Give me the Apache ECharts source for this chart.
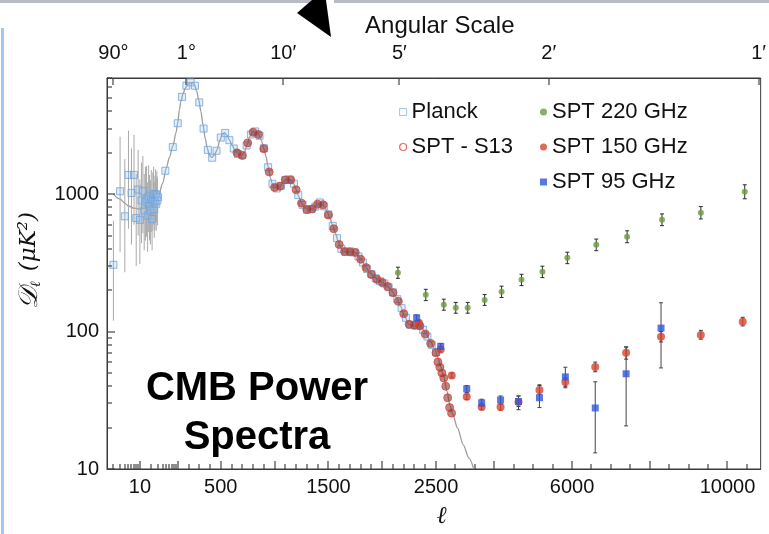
<!DOCTYPE html>
<html><head><meta charset="utf-8">
<script src="https://cdn.jsdelivr.net/npm/echarts@6/dist/echarts.min.js"></script>
<style>html,body{margin:0;padding:0;background:#fff}#c{width:769px;height:534px}</style>
</head><body><div id="c"></div>
<script>
// ---------- tick labels ----------
const xLabelVals = [10, 500, 1500, 2500, 6000, 10000];
const xMajorTicks = [10, 100, 500, 1000, 1500, 2000, 2500, 4000, 6000, 8000, 10000];
const xMinorTicks = [2,3,4,5,6,7,8,9,20,30,40,50,60,70,80,90,200,300,400,600,700,800,900,1100,1200,1300,1400,1600,1700,1800,1900,2100,2200,2300,2400,3000,3500,4500,5000,5500,6500,7000,7500,8500,9000,9500,10500];
const angL = [2, 180, 1080, 2160, 5400, 10800];
const angLabels = ['90°', '1°', '10′', '5′', '2′', '1′'];
const yLabelVals = [10, 100, 1000];
const yMinorTicks = [20,30,40,50,60,70,80,90,200,300,400,500,600,700,800,900,2000,3000,4000,5000,6000,7000];

// ---------- theory curve ----------
const theoryL = [2,3,4,5,7,10,15,20,25,30,40,50,60,75,90,100,115,130,150,170,190,215,235,255,275,295,315,335,355,375,395,415,440,465,490,515,535,555,580,605,630,655,678,700,720,745,770,792,812,835,858,880,900,920,940,960,980,1000,1025,1050,1075,1100,1125,1150,1175,1200,1225,1250,1275,1300,1325,1350,1375,1400,1420,1440,1465,1490,1515,1540,1565,1590,1615,1640,1665,1690,1715,1740,1765,1790,1815,1850,1890,1930,1970,2010,2050,2090,2130,2170,2210,2250,2290,2330,2370,2410,2450,2490,2550,2620,2700,2780,2860,2930,3050,3200,3350,3470];
const theoryD = [1000,920,860,820,790,780,790,820,870,930,1200,1550,1850,2250,2800,3300,4100,4750,5400,5900,6250,6450,6470,6250,5650,4850,4000,3200,2550,2150,1920,1850,1920,2100,2450,2750,2800,2700,2480,2270,2100,1980,1890,1920,2030,2300,2620,2800,2850,2800,2680,2420,2150,1880,1580,1320,1180,1120,1100,1130,1210,1275,1290,1265,1200,1080,960,860,800,775,770,780,805,845,865,855,810,740,665,590,520,455,405,385,378,380,382,380,368,345,322,292,265,248,235,225,213,198,178,153,128,112,110,112,106,96,84,74,64,56,47,37,29,25,20,15,12,10];

// ---------- Planck ----------
const planckLowL = [2,3,4,5,6,7,8,9,10,11,12,13,14,15,16,17,18,19,20,21,22,23,24,25,26,27,28,29];
const planckLowD = [306,1050,690,1380,1020,1380,670,1080,650,900,1050,760,880,920,700,960,820,760,920,660,900,1000,780,880,1000,850,980,900];
const planckLowLo = [120,380,270,560,430,600,300,500,310,440,520,390,460,490,380,530,460,430,530,390,540,600,480,550,630,540,630,590];
const planckLowHi = [640,2620,1800,2900,2150,2700,1400,2100,1280,1700,1900,1400,1580,1600,1220,1620,1380,1260,1500,1080,1440,1580,1220,1360,1520,1290,1470,1340];
const planckL = [30,47,74,100,140,180,220,260,300,340,380,420,460,500,540,580,620,660,700,740,780,820,860,900,940,980,1020,1060,1100,1140,1180,1220,1260,1300,1340,1380,1420,1460,1500,1540,1580,1620,1660,1700,1740,1780,1820,1860,1900,1940,1980,2020,2060,2100,2140,2180,2220,2260,2300,2340,2380,2420,2460,2500];
const planckD = [950,1480,2200,3280,5100,6150,6500,6150,4650,3000,2100,1840,2070,2580,2790,2470,2150,1960,1930,2260,2720,2860,2660,2160,1570,1190,1100,1150,1270,1280,1190,985,835,770,778,812,870,815,712,588,478,400,380,384,377,352,318,285,262,244,232,224,210,193,172,148,126,112,111,111,103,92,80,71];

// ---------- SPT - S13 ----------
const s13L = [650,700,750,800,850,900,950,1000,1050,1100,1150,1200,1250,1300,1350,1400,1450,1500,1550,1600,1650,1700,1750,1800,1850,1900,1950,2000,2050,2100,2150,2200,2250,2300,2350,2400,2450,2500,2550,2600,2650,2700,2750,2800,2850,2900];
const s13D = [2000,1910,2360,2820,2720,2140,1450,1120,1140,1270,1270,1075,860,772,782,845,838,705,560,430,382,380,376,336,292,260,240,228,213,192,166,135,113,111,110,96,82,70,60,55,50,46,40,33,28,25.5];

// ---------- SPT 220 GHz ----------
const s220L = [2146,2405,2700,3008,3315,3751,4187,4700,5238,5879,6623,7418,8315,9315,10444];
const s220D = [268,185,157,149,149,170,195,238,272,344,428,490,652,733,1042];
const s220Lo = [244,168,143,136,136,155,177,216,247,312,388,443,590,660,925];
const s220Hi = [294,203,172,163,163,186,214,261,299,378,471,541,718,812,1170];

// ---------- SPT 150 GHz ----------
const s150L = [2340,2620,2905,3290,3674,4161,4623,5162,5828,6597,7392,8290,9315,10392];
const s150D = [116,74,48,33.5,28.3,28.3,30.7,37.6,43,55.3,70,91.6,94.6,118];
const s150Lo = [112,71,46,32,27,26.8,27,35,40,51,63,84,88,110];
const s150Hi = [120,77,50,35,29.6,29.8,34,40.5,46,60,77,100,102,127];

// ---------- SPT 95 GHz ----------
const s95L = [2320,2620,3290,3674,4161,4623,5162,5828,6597,7392,8290];
const s95D = [126,78,38.3,30.3,31.8,31,33,46.8,27.8,49.3,106];
const s95Lo = [120,74,36,28.5,29.5,28.5,28,39,13.1,20.6,54.4];
const s95Hi = [132,82,40.5,32.2,34,34,41,55,43.1,77.5,162];

// ---------- piecewise multipole scale (log to 100, linear to 2500, compressed linear beyond) ----------
function lx(l) {
  if (l <= 100) return 71 + 38 * Math.log10(l / 100);
  if (l <= 2500) return 71 + (l - 100) * 0.108;
  return 330.2 + (l - 2500) * 0.039;
}
const X_MAX = 656, Y_MIN = 10, Y_MAX = 7000;

const P = (L, D) => L.map((l, i) => [lx(l), D[i]]);
const E = (L, lo, hi) => L.map((l, i) => [lx(l), lo[i], hi[i]]);

function errSeries(data, color, cap, z, w) {
  return {
    type: 'custom', data, z, silent: true, clip: true,
    encode: { x: 0, y: [1, 2] },
    renderItem(params, api) {
      const x = api.value(0);
      const a = api.coord([x, api.value(1)]);
      const b = api.coord([x, api.value(2)]);
      const st = { stroke: color, lineWidth: w || 1 };
      const ch = [{ type: 'line', shape: { x1: a[0], y1: a[1], x2: b[0], y2: b[1] }, style: st }];
      if (cap) {
        ch.push({ type: 'line', shape: { x1: a[0] - cap, y1: a[1], x2: a[0] + cap, y2: a[1] }, style: st });
        ch.push({ type: 'line', shape: { x1: b[0] - cap, y1: b[1], x2: b[0] + cap, y2: b[1] }, style: st });
      }
      return { type: 'group', children: ch };
    }
  };
}

const AX = '#3a3a3a';
const FONT = "'Liberation Sans', Arial, sans-serif";
const baseGraphic = [
  { type: 'text', x: 257, y: 364, z: 20, silent: true,
    style: { text: 'CMB Power\nSpectra', font: "bold 40px 'Liberation Sans', Arial, sans-serif", fill: '#000', align: 'center', lineHeight: 49 } },
  { type: 'rect', shape: { x: 0, y: 0, width: 326, height: 3 }, style: { fill: '#b9bcc4' }, silent: true },
  { type: 'rect', shape: { x: 334, y: 0, width: 435, height: 3 }, style: { fill: '#b9bcc4' }, silent: true },
  { type: 'rect', shape: { x: 1, y: 28, width: 3, height: 506 }, style: { fill: '#a9c3f3' }, silent: true },
  { type: 'polygon', shape: { points: [[297, 13], [312, 0], [326, 0], [331, 37]] }, style: { fill: '#000' }, silent: true }
];

const chart = echarts.init(document.getElementById('c'), null, { renderer: 'canvas' });
chart.setOption({
  animation: false,
  backgroundColor: '#fff',
  grid: { show: true, borderColor: AX, borderWidth: 1, left: 107, right: 6, top: 78, bottom: 64 },
  xAxis: [
    { type: 'value', position: 'bottom', min: 0, max: X_MAX,
      axisLine: { show: true, lineStyle: { color: AX } },
      axisTick: { show: false },
      axisLabel: { show: true, customValues: xLabelVals.map(lx), margin: 8, color: '#111', fontSize: 20, fontFamily: FONT,
        formatter: v => { const i = xLabelVals.findIndex(l => Math.abs(lx(l) - v) < 0.5); return i >= 0 ? String(xLabelVals[i]) : ''; } },
      splitLine: { show: false },
      name: 'ℓ', nameLocation: 'middle', nameGap: 36,
      nameTextStyle: { fontFamily: "'DejaVu Serif', serif", fontStyle: 'italic', fontSize: 24, color: '#111', padding: [0, 0, 0, 16] }
    },
    { type: 'value', position: 'top', min: 0, max: X_MAX,
      axisLine: { show: true, lineStyle: { color: AX } },
      axisTick: { show: false },
      axisLabel: { show: true, customValues: angL.map(lx), margin: 15, color: '#111', fontSize: 20, fontFamily: FONT,
        formatter: v => { const i = angL.findIndex(l => Math.abs(lx(l) - v) < 0.5); return i >= 0 ? angLabels[i] : ''; } },
      splitLine: { show: false },
      name: 'Angular Scale', nameLocation: 'middle', nameGap: 39,
      nameTextStyle: { fontFamily: FONT, fontSize: 24, color: '#111', padding: [0, 0, 0, 12] }
    }
  ],
  yAxis: [
    { type: 'log', logBase: 10, min: Y_MIN, max: Y_MAX,
      axisLine: { show: true, lineStyle: { color: AX } },
      axisTick: { show: false },
      axisLabel: { show: true, customValues: yLabelVals, margin: 8, color: '#111', fontSize: 20, fontFamily: FONT,
        formatter: v => String(Math.round(v)) },
      splitLine: { show: false },
      name: '{d|𝒟}{s|ℓ}   {n|(μK²)}', nameLocation: 'middle', nameRotate: 90, nameGap: 64,
      nameTextStyle: { padding: [0, 0, 0, 26], rich: {
        d: { fontFamily: "'DejaVu Serif', serif", fontStyle: 'italic', fontSize: 27, color: '#111' },
        s: { fontFamily: "'DejaVu Serif', serif", fontStyle: 'italic', fontSize: 14, color: '#111', verticalAlign: 'bottom', padding: [10, 0, 0, 0] },
        n: { fontFamily: "'DejaVu Serif', serif", fontStyle: 'italic', fontSize: 23, color: '#111' }
      } }
    }
  ],
  legend: [
    { orient: 'vertical', left: 394, top: 96, itemWidth: 7, itemHeight: 7, itemGap: 13,
      textStyle: { fontSize: 22, fontFamily: FONT, color: '#111' },
      data: [
        { name: 'Planck', icon: 'rect', itemStyle: { color: '#fff', borderColor: '#8ab6e2', borderWidth: 1 } },
        { name: 'SPT - S13', icon: 'circle', itemStyle: { color: '#fff', borderColor: '#e0493c', borderWidth: 1.2 } }
      ] },
    { orient: 'vertical', left: 535, top: 96, itemWidth: 7, itemHeight: 7, itemGap: 13,
      textStyle: { fontSize: 22, fontFamily: FONT, color: '#111' },
      data: [
        { name: 'SPT 220 GHz', icon: 'circle' },
        { name: 'SPT 150 GHz', icon: 'circle' },
        { name: 'SPT 95 GHz', icon: 'rect' }
      ] }
  ],
  series: [
    { name: 'theory', type: 'line', data: P(theoryL, theoryD), showSymbol: false, smooth: 0.3, smoothMonotone: 'x',
      lineStyle: { color: '#9c9c9c', width: 1.3 }, z: 1, silent: true, clip: true },
    errSeries(E(planckLowL, planckLowLo, planckLowHi), '#a9a9a9', 0, 2),
    { name: 'Planck', type: 'scatter', data: P(planckLowL, planckLowD).concat(P(planckL, planckD)), symbol: 'rect', symbolSize: 7,
      itemStyle: { color: 'rgba(150,195,240,0.35)', borderColor: '#6fa5dc', borderWidth: 1 }, z: 3 },
    { name: 'SPT - S13', type: 'scatter', data: P(s13L, s13D), symbol: 'circle', symbolSize: 8,
      itemStyle: { color: 'rgba(140,45,40,0.72)', borderColor: '#d9473a', borderWidth: 1 }, z: 4 },
    errSeries(E(s220L, s220Lo, s220Hi), '#2b2b2b', 2, 5),
    errSeries(E(s150L, s150Lo, s150Hi), '#3a3a3a', 2, 5),
    errSeries(E(s95L, s95Lo, s95Hi), '#444', 2, 5),
    { name: 'SPT 220 GHz', type: 'scatter', data: P(s220L, s220D), symbol: 'circle', symbolSize: 6,
      itemStyle: { color: '#6c9a3d' }, z: 6 },
    { name: 'SPT 150 GHz', type: 'scatter', data: P(s150L, s150D), symbol: 'circle', symbolSize: 8,
      itemStyle: { color: '#d8442f' }, z: 6 },
    { name: 'SPT 95 GHz', type: 'scatter', data: P(s95L, s95D), symbol: 'rect', symbolSize: 7,
      itemStyle: { color: '#2f56de' }, z: 7 }
  ],
  graphic: baseGraphic
});

// axis tick marks as thin filled bars, placed with the chart's own coordinate conversion
const tickEls = [];
function addTick(u, v, dx, dy) {
  const p = chart.convertToPixel({ xAxisIndex: 0, yAxisIndex: 0 }, [u, v]);
  if (!p) return;
  const x = Math.round(p[0]), y = Math.round(p[1]);
  const shape = dx === 0
    ? { x: x - 0.6, y: Math.min(y, y + dy), width: 1.2, height: Math.abs(dy) }
    : { x: Math.min(x, x + dx), y: y - 0.6, width: Math.abs(dx), height: 1.2 };
  tickEls.push({ type: 'rect', silent: true, z: 100, zlevel: 1, shape, style: { fill: '#444' } });
}
xMajorTicks.forEach(l => addTick(lx(l), Y_MIN, 0, -8));
xMinorTicks.forEach(l => addTick(lx(l), Y_MIN, 0, -5));
angL.forEach(l => addTick(lx(l), Y_MAX, 0, 7));
yLabelVals.forEach(v => addTick(0, v, 8, 0));
yMinorTicks.forEach(v => addTick(0, v, 5, 0));
chart.setOption({ graphic: baseGraphic.concat(tickEls) });
</script></body></html>
